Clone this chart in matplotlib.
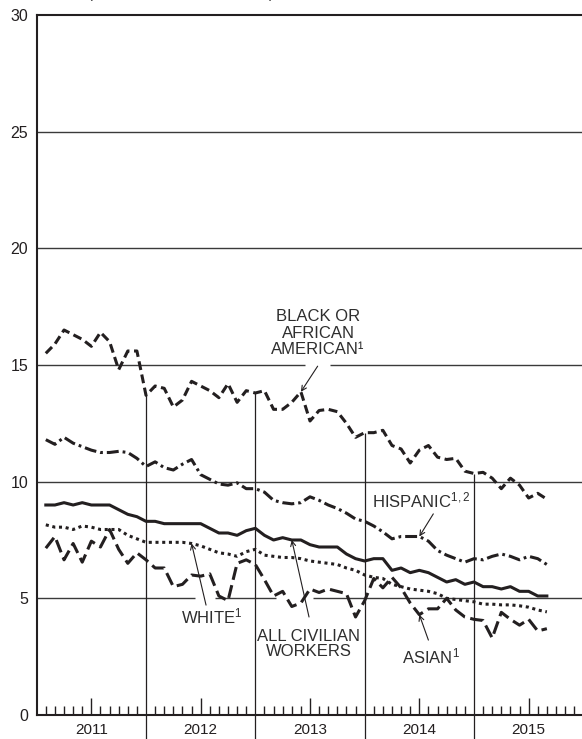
#!/usr/bin/python3
# Unemployment rates by race and Hispanic ethnicity, monthly

import numpy as np
from matplotlib import pyplot as plt

plt.rcParams['font.family'] = ['Liberation Sans', 'DejaVu Sans']
plt.rcParams['mathtext.fontset'] = 'custom'
plt.rcParams['mathtext.rm'] = 'Liberation Sans'
plt.rcParams['mathtext.default'] = 'rm'

# %%
# Data: Feb 2011 .. Sep 2015, percent

months = np.arange(1, 57)          # months after Jan 2011
years = [2011, 2012, 2013, 2014, 2015]

total = [9.0, 9.0, 9.1, 9.0, 9.1, 9.0, 9.0, 9.0, 8.8, 8.6, 8.5,
         8.3, 8.3, 8.2, 8.2, 8.2, 8.2, 8.2, 8.0, 7.8, 7.8, 7.7, 7.9,
         8.0, 7.7, 7.5, 7.6, 7.5, 7.5, 7.3, 7.2, 7.2, 7.2, 6.9, 6.7,
         6.6, 6.7, 6.7, 6.2, 6.3, 6.1, 6.2, 6.1, 5.9, 5.7, 5.8, 5.6,
         5.7, 5.5, 5.5, 5.4, 5.5, 5.3, 5.3, 5.1, 5.1]

black = [15.5, 15.9, 16.5, 16.3, 16.1, 15.8, 16.4, 16.0, 14.8, 15.6, 15.6,
         13.7, 14.1, 14.0, 13.2, 13.5, 14.3, 14.1, 13.9, 13.6, 14.2, 13.4, 13.9,
         13.8, 13.9, 13.1, 13.1, 13.4, 13.85, 12.6, 13.05, 13.1, 13.0, 12.5, 11.9,
         12.1, 12.1, 12.2, 11.55, 11.4, 10.8, 11.35, 11.55, 11.05, 10.95, 11.0, 10.45,
         10.35, 10.4, 10.15, 9.7, 10.15, 9.85, 9.3, 9.5, 9.25]

hispanic = [11.8, 11.6, 11.9, 11.65, 11.5, 11.35, 11.25, 11.25, 11.3, 11.25, 11.0,
            10.65, 10.85, 10.6, 10.5, 10.75, 10.95, 10.3, 10.1, 9.9, 9.85, 9.95, 9.7,
            9.7, 9.55, 9.2, 9.1, 9.05, 9.1, 9.35, 9.2, 9.0, 8.85, 8.65, 8.4,
            8.3, 8.1, 7.85, 7.55, 7.65, 7.65, 7.65, 7.45, 7.05, 6.85, 6.7, 6.55,
            6.7, 6.65, 6.8, 6.9, 6.8, 6.65, 6.8, 6.7, 6.45]

white = [8.15, 8.05, 8.05, 7.95, 8.1, 8.05, 7.95, 7.95, 7.95, 7.7, 7.55,
         7.4, 7.4, 7.4, 7.4, 7.4, 7.35, 7.25, 7.1, 6.95, 6.9, 6.8, 7.0,
         7.1, 6.85, 6.8, 6.75, 6.75, 6.7, 6.6, 6.55, 6.5, 6.45, 6.3, 6.2,
         6.0, 5.9, 5.85, 5.6, 5.5, 5.4, 5.35, 5.3, 5.2, 5.0, 4.95, 4.9,
         4.85, 4.75, 4.75, 4.72, 4.72, 4.68, 4.62, 4.5, 4.42]

asian = [7.15, 7.65, 6.65, 7.35, 6.55, 7.45, 7.2, 7.95, 7.1, 6.5, 6.95,
         6.65, 6.3, 6.3, 5.5, 5.6, 6.0, 5.95, 6.05, 5.1, 4.9, 6.5, 6.65,
         6.45, 5.8, 5.1, 5.3, 4.65, 4.8, 5.4, 5.25, 5.4, 5.3, 5.2, 4.2,
         4.9, 5.85, 5.45, 5.9, 5.45, 4.8, 4.3, 4.55, 4.55, 5.0, 4.5, 4.2,
         4.1, 4.05, 3.3, 4.4, 4.1, 3.85, 4.1, 3.6, 3.7]

x = 2011 + months / 12

# %%
ink = '#231f20'
grid_col = '#3a3a3a'
txt_col = '#2e2e2e'

fig = plt.figure(figsize=(5.82, 7.39), dpi=100)
ax = fig.add_axes([36.7 / 582, 24 / 739, 546.6 / 582, 700 / 739])
ax.set_xlim(2011, 2016)
ax.set_ylim(0, 30)

# horizontal rules, broken where the label arrows pass
grid_gaps = {15: [(2013.455, 2013.683)],
             5: [(2012.448, 2012.631), (2013.189, 2013.528)]}
for level in [5, 10, 15, 20, 25]:
    edges = [2011]
    for a, b in grid_gaps.get(level, []):
        edges += [a, b]
    edges.append(2016)
    for a, b in zip(edges[::2], edges[1::2]):
        ax.hlines(level, a, b, color=grid_col, lw=1.0, zorder=1)

# year separators run from below the axis up to the top series
ax.vlines(years[1:], -1.1, np.interp(years[1:], x, black),
          color=ink, lw=0.9, clip_on=False, zorder=2)

# series
lw = 2.2
ax.plot(x, black, color=ink, lw=lw, ls=(0, (2.9, 1.5)), zorder=3)
ax.plot(x, hispanic, color=ink, lw=lw, ls=(0, (3.9, 1.3, 0.9, 1.3)), zorder=3)
ax.plot(x, total, color=ink, lw=lw, zorder=3)
ax.plot(x, white, color=ink, lw=lw, ls=(0, (1.0, 1.2)), zorder=3)
ax.plot(x, asian, color=ink, lw=lw, ls=(0, (4.3, 1.8)), zorder=3)

# labels and arrows
fs = 12
arrow = dict(arrowstyle='->', lw=0.8, color=ink, shrinkA=0, shrinkB=0,
             mutation_scale=9)

ax.text(2013.574, 16.37, 'BLACK OR\nAFRICAN\nAMERICAN\u00b9', ha='center',
        va='center', fontsize=fs, color=txt_col, linespacing=1.12)
ax.annotate('', xy=(x[28], black[28]), xytext=(2013.57, 14.95),
            arrowprops=arrow, zorder=2)

ax.text(2014.065, 9.18, 'HISPANIC$^{1,2}$', ha='left', va='center',
        fontsize=fs, color=txt_col)
ax.annotate('', xy=(x[41], hispanic[41]), xytext=(2014.628, 8.62),
            arrowprops=arrow, zorder=2)

ax.text(2012.32, 4.21, 'WHITE$^1$', ha='left', va='center',
        fontsize=fs, color=txt_col)
ax.annotate('', xy=(x[16], white[16]), xytext=(2012.549, 4.71),
            arrowprops=arrow, zorder=2)

ax.text(2013.488, 3.04, 'ALL CIVILIAN\nWORKERS', ha='center', va='center',
        fontsize=fs, color=txt_col, linespacing=1.05)
ax.annotate('', xy=(x[27], total[27]), xytext=(2013.491, 4.2),
            arrowprops=arrow, zorder=2)

ax.text(2014.607, 2.49, 'ASIAN$^1$', ha='center', va='center',
        fontsize=fs, color=txt_col)
ax.annotate('', xy=(x[41], asian[41]), xytext=(2014.583, 3.21),
            arrowprops=arrow, zorder=2)

# axes
ax.set_yticks(range(0, 31, 5))
ax.tick_params(axis='y', length=0, pad=6, labelsize=11.5, labelcolor=ink)

ax.set_xticks([yr + 0.5 for yr in years])
ax.set_xticklabels([str(yr) for yr in years])
ax.set_xticks([2011 + k / 12 for k in range(1, 60) if k % 6 != 0], minor=True)
ax.tick_params(axis='x', which='major', direction='in', length=12.5, width=1,
               pad=5.5, labelsize=11, color=ink, labelcolor=ink)
ax.tick_params(axis='x', which='minor', direction='in', length=6.5, width=1,
               color=ink)

ax.spines['right'].set_visible(False)
for side in ['left', 'top', 'bottom']:
    ax.spines[side].set_linewidth(1.5)
    ax.spines[side].set_color(ink)

# heading, cut off by the top edge in the source (only the bracket tails show)
fig.text(88 / 582, 1 + 2 / 739, '(SEASONALLY ADJUSTED)', ha='left',
         va='baseline', fontsize=10.5, color=txt_col)

fig.savefig('out.png', dpi=100)
